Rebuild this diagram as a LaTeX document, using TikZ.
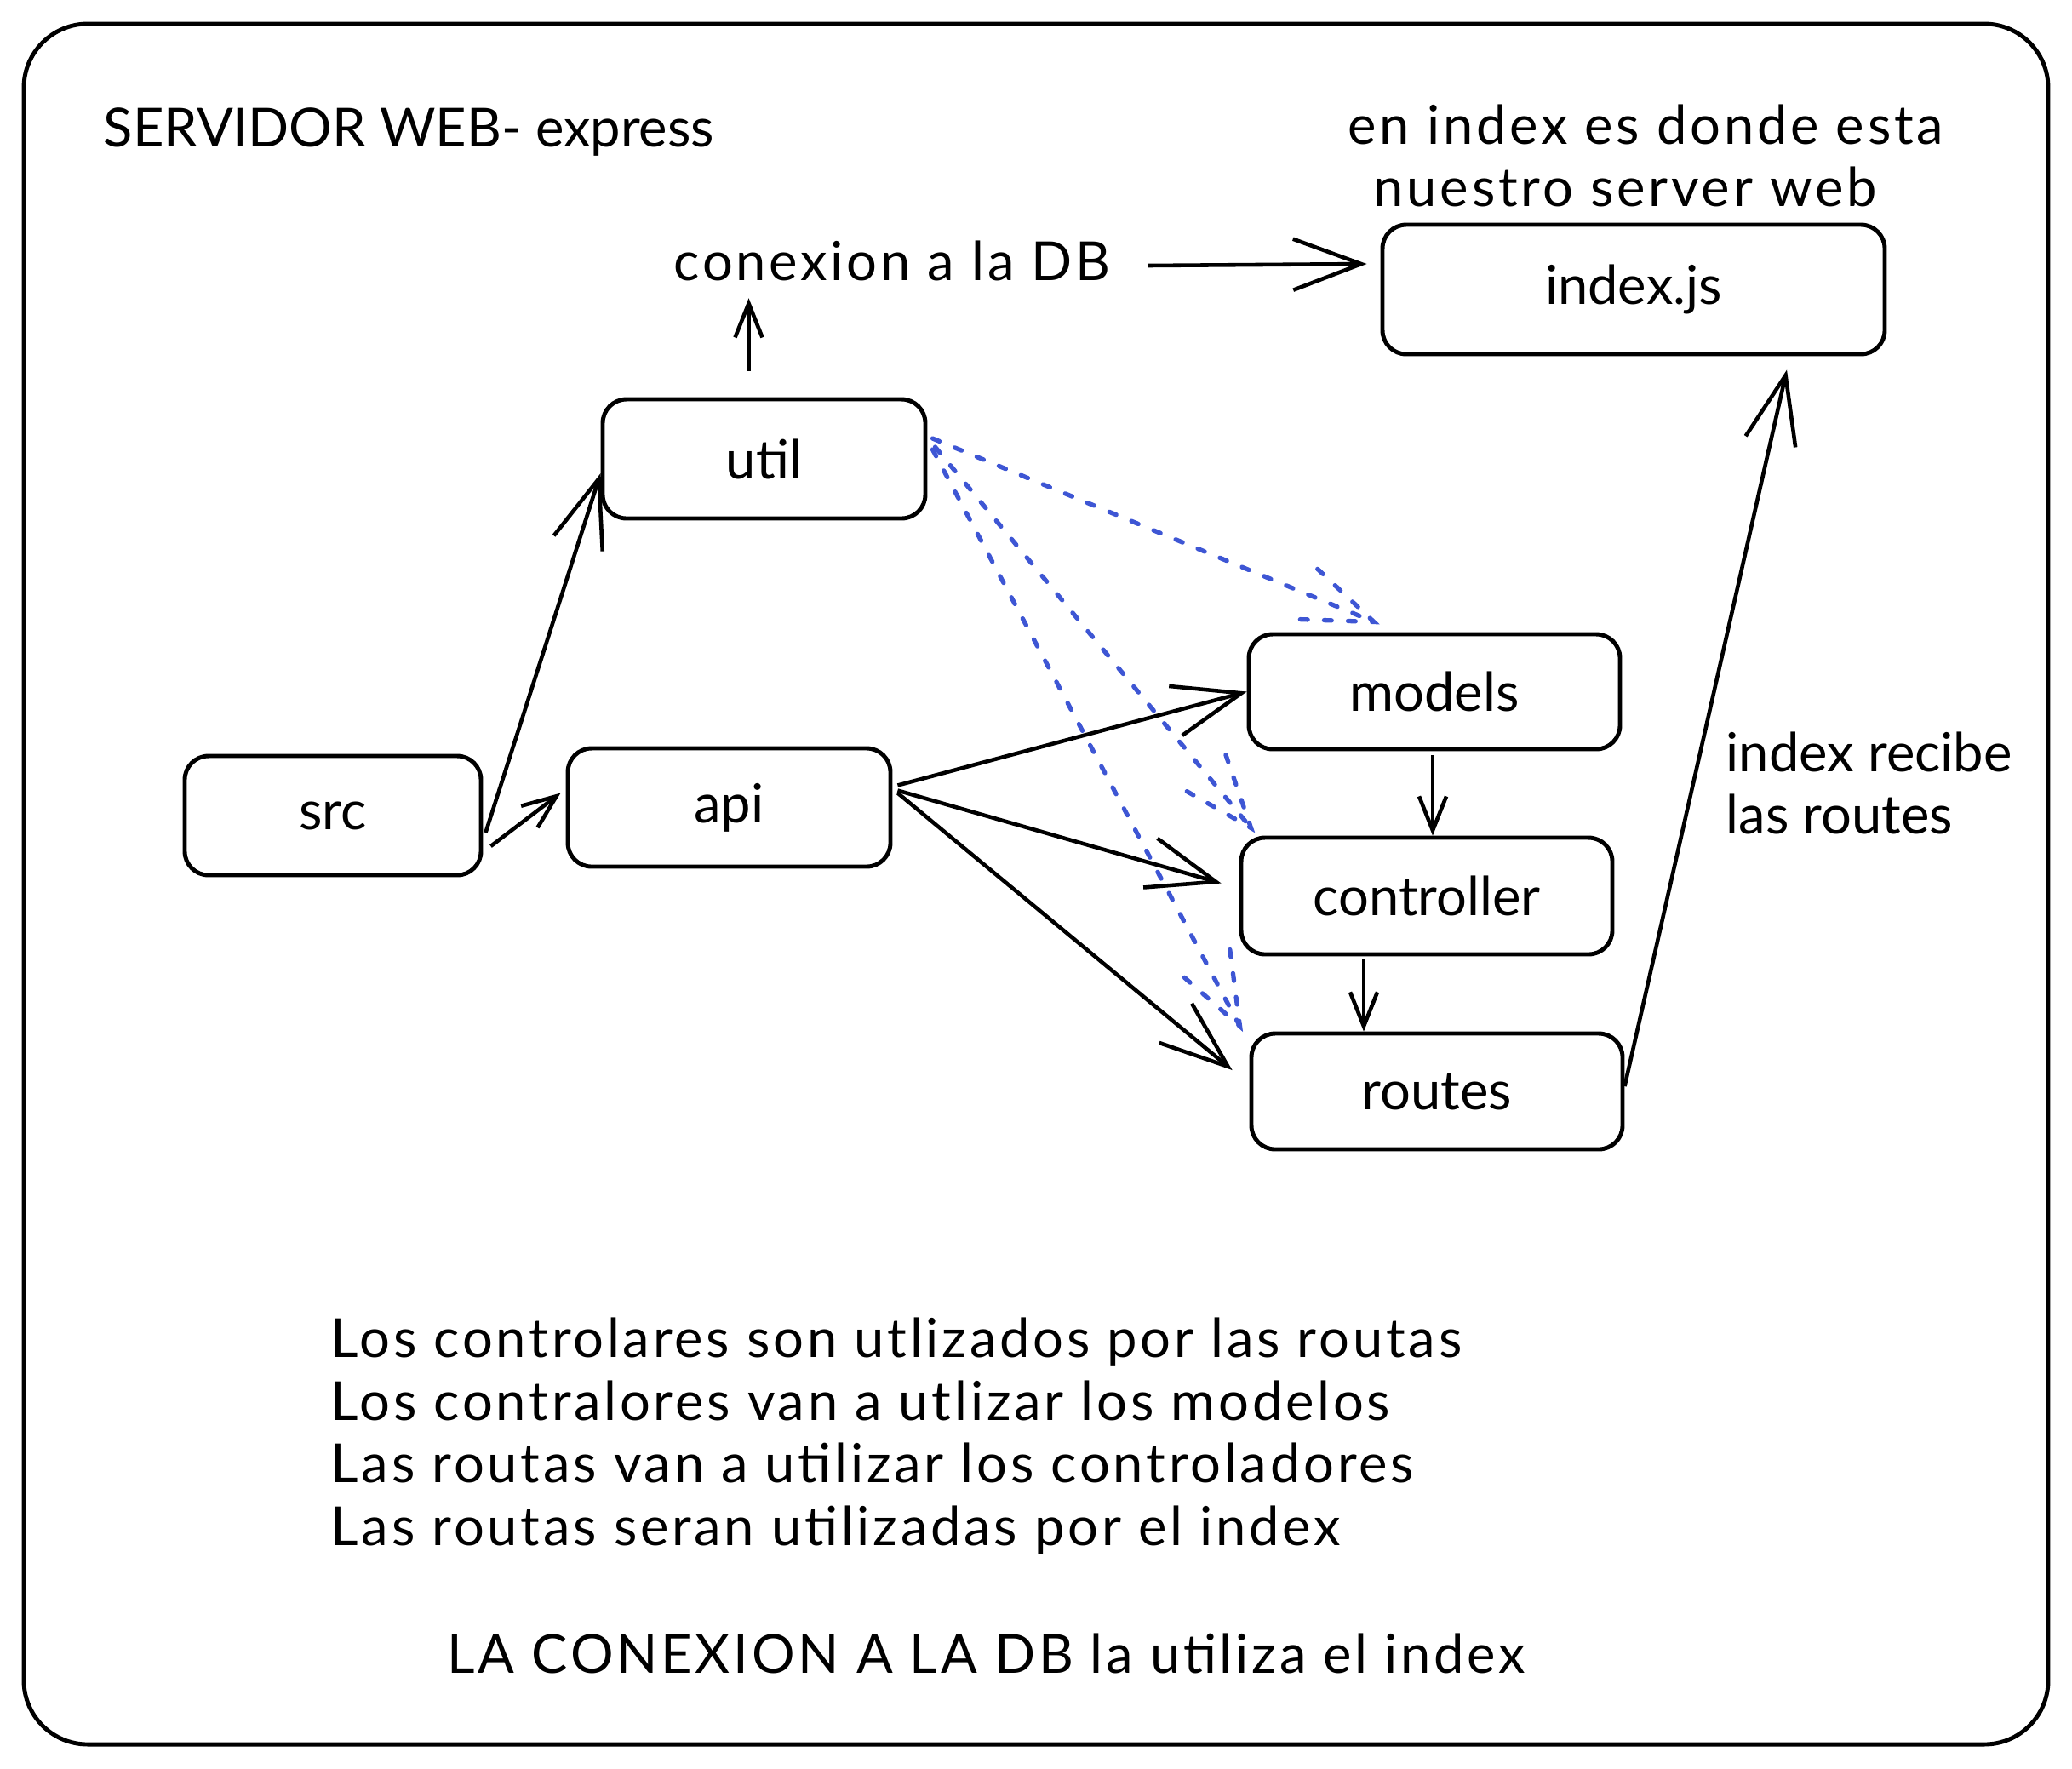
\documentclass[tikz,border=0pt]{standalone}
\usepackage{fontspec}
\setmainfont{Lato}
\newfontfamily\widefont[LetterSpace=6]{Lato}
\usetikzlibrary{arrows.meta, decorations.markings}
\definecolor{linkblue}{RGB}{62,86,212}

\begin{document}
\begin{tikzpicture}[
    x=1cm, y=-1cm,
    font=\fontsize{18}{21}\selectfont,
    module/.style={rectangle, draw, line width=1.4pt, rounded corners=0.28cm, inner sep=0pt, align=center},
    note/.style={inner sep=0pt, align=left},
    bigarrow/.style={-{Straight Barb[length=0.8cm, width=0.6cm]}, line width=1.3pt},
    smallarrow/.style={-{Straight Barb[length=0.4cm, width=0.32cm]}, line width=1.3pt},
    dots/.style={draw=linkblue, line width=1.5pt, dash pattern=on 2.5pt off 5.5pt, line cap=round},
    uses/.style={dots, postaction={decorate}, decoration={markings, mark=at position 1 with {
        \draw[dots] (-0.85cm,0.32cm) -- (0,0) -- (-0.85cm,-0.32cm);}}},
]

\useasboundingbox (0,0) rectangle (24.34,20.77);

% Frame
\draw[line width=1.4pt, rounded corners=0.75cm] (0.28,0.28) rectangle (24.06,20.49);

% Notes
\node[note, anchor=west] (title) at (1.21,1.55) {SERVIDOR WEB- express};
\node[note, anchor=west, font=\fontsize{18}{21}\widefont] (indexnote) at (15.83,1.83) {en index es donde esta\\\hspace*{0.3cm}nuestro server web};
\node[note, font=\fontsize{18}{21}\widefont] (db) at (10.48,3.06) {conexion a la DB};
\node[note, anchor=west] (routesnote) at (20.27,9.20) {index recibe\\las routes};
\node[note, anchor=west, align=left, font=\fontsize{18}{21}\widefont] (summary) at (3.88,16.87) {
    Los controlares son utlizados por las routas\\
    Los contralores van a utlizar los modelos\\
    Las routas van a utilizar los controladores\\
    Las routas seran utilizadas por el index
};
\node[note, anchor=west, font=\fontsize{18}{21}\widefont] (dbnote) at (5.25,19.42) {LA CONEXION A LA DB la utiliza el index};

% Modules
\node[module, minimum width=5.90cm, minimum height=1.52cm] (index) at (19.19,3.40) {index.js};
\node[module, minimum width=3.79cm, minimum height=1.40cm] (util) at (8.975,5.39) {util};
\node[module, minimum width=3.48cm, minimum height=1.40cm] (src) at (3.91,9.58) {src};
\node[module, minimum width=3.79cm, minimum height=1.39cm] (api) at (8.565,9.485) {api};
\node[module, minimum width=4.36cm, minimum height=1.35cm] (models) at (16.85,8.125) {models};
\node[module, minimum width=4.36cm, minimum height=1.37cm] (controller) at (16.76,10.525) {controller};
\node[module, minimum width=4.36cm, minimum height=1.36cm] (routes) at (16.88,12.82) {routes};

% Arrows
\draw[smallarrow, shorten >=0.2cm] ([xshift=-0.18cm, yshift=0.31cm]util.north) -- ([xshift=-0.18cm]util.north |- db.south);
\draw[bigarrow] ([xshift=0.43cm, yshift=-0.06cm]db.east) -- ([xshift=-0.16cm, yshift=0.30cm]index.west);
\draw[bigarrow] ([xshift=0.03cm, yshift=-0.20cm]src.east) -- ([yshift=-0.17cm]util.west);
\draw[smallarrow] ([xshift=0.09cm, yshift=-0.36cm]src.east) -- ([xshift=-0.06cm, yshift=0.17cm]api.west);
\draw[bigarrow] ([xshift=0.06cm, yshift=0.26cm]api.east) -- (models.west);
\draw[bigarrow] ([xshift=0.06cm, yshift=0.20cm]api.east) -- ([xshift=-0.21cm, yshift=0.15cm]controller.west);
\draw[bigarrow] ([xshift=0.06cm, yshift=0.17cm]api.east) -- ([xshift=-0.20cm, yshift=0.25cm]routes.west);
\draw[smallarrow] ([xshift=-0.02cm, yshift=-0.05cm]models.south) -- ([xshift=-0.02cm]models.south |- controller.north);
\draw[smallarrow] ([xshift=-0.74cm, yshift=-0.03cm]controller.south) -- ([xshift=-0.74cm]controller.south |- routes.north);
\draw[bigarrow] ([yshift=0.06cm]routes.east) -- ([xshift=1.80cm, yshift=-0.16cm]index.south);

% Uses
\draw[uses] ([xshift=0.06cm, yshift=0.24cm]util.east) -- ([xshift=-0.71cm, yshift=0.12cm]models.north);
\draw[uses] ([xshift=0.09cm, yshift=0.14cm]util.east) -- ([xshift=0.14cm, yshift=0.09cm]controller.north west);
\draw[uses] ([xshift=0.06cm, yshift=0.11cm]util.east) -- ([xshift=-0.11cm, yshift=0.06cm]routes.north west);

\end{tikzpicture}
\end{document}
